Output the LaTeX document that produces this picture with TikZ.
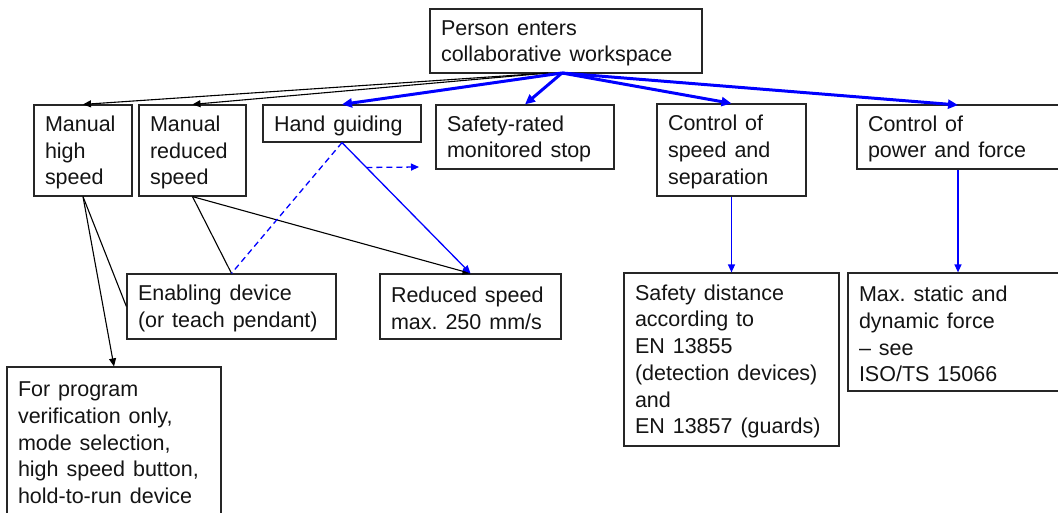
\documentclass[tikz,border=0pt]{standalone}
\usepackage{fontspec}
\setmainfont{Liberation Sans}
\usetikzlibrary{arrows.meta,calc}

% A framed, left-aligned box given by its corner coordinates (x1,y1) and (x2,y2)
\newcommand\flowbox[6]{%
  \pgfmathsetmacro\fbW{#4-#2}%
  \pgfmathsetmacro\fbH{#5-#3}%
  \pgfmathsetmacro\fbT{#4-#2-22}%
  \pgfmathsetmacro\fbX{(#2+#4)/2}%
  \pgfmathsetmacro\fbY{(#3+#5)/2}%
  \node[bx, minimum width=\fbW pt, minimum height=\fbH pt, text width=\fbT pt] (#1) at (\fbX,\fbY) {#6};%
}

\newcommand\boxfont{\fontsize{21.5}{26.7}\selectfont}
% wider word spaces and a taller first line, so the text sits a little lower
\newcommand\boxspacing{\frenchspacing\spaceskip=0.37em plus 0.1em\relax\rule{0pt}{19.5pt}}

\tikzset{
  bx/.style={draw=black!85, line width=1.2pt, rectangle, inner xsep=11pt, inner ysep=0pt,
             align=left, text=black!92, font=\boxfont,
             execute at begin node=\boxspacing},
  thinblack/.style={draw=black, line width=1.1pt},
  thinblue/.style={draw=blue, line width=1.3pt},
  thickblue/.style={draw=blue, line width=3pt},
  tipS/.style={-{Triangle[length=8pt,width=7pt]}},
  tipL/.style={-{Triangle[length=10pt,width=9pt]}},
  dashline/.style={dash pattern=on 6pt off 4pt}
}

\begin{document}
\begin{tikzpicture}[x=1pt,y=-1pt]
  \useasboundingbox (0,0) rectangle (1058,512);
  \clip (0,0) rectangle (1058,512);
  \fill[white] (0,0) rectangle (1058,512);

  % entry box
  \flowbox{top}{430}{9}{702}{73}{Person enters\\collaborative workspace}

  % operating modes
  \flowbox{mhs}{34}{105}{132}{196}{Manual\\high\\speed}
  \flowbox{mrs}{139}{105}{246}{196}{Manual\\reduced\\speed}
  \flowbox{hg}{263}{105}{421}{142}{Hand guiding}
  \flowbox{ss}{436}{105}{614}{169}{Safety-rated\\monitored stop}
  \flowbox{css}{657}{104}{806}{196}{Control of\\speed and\\separation}
  \flowbox{cpf}{857}{105}{1064}{169}{Control of\\power and force}

  % requirements
  \flowbox{en}{127}{274}{336}{339}{Enabling device\\(or teach pendant)}
  \flowbox{rs}{380}{274}{561}{339}{Reduced speed\\max. 250 mm/s}
  \flowbox{fp}{7}{367}{221}{514}{For program\\verification only,\\mode selection,\\high speed button,\\hold-to-run device}
  \flowbox{sd}{624}{273}{839}{446}{Safety distance\\according to\\EN 13855\\(detection devices)\\and\\EN 13857 (guards)}
  \flowbox{ms}{848}{273}{1064}{391}{Max. static and\\dynamic force\\-- see\\ISO/TS 15066}

  % fan-out points under the entry box
  \coordinate (srcK) at (548,73);
  \coordinate (srcB) at (562,73);
  \coordinate (cpfIn) at (958,105);
  \coordinate (hgSplit) at ($(hg.south)!0.19!(rs.north)$);
  \coordinate (stopIn) at (419,167);

  % branches from the entry box
  \draw[thinblack, tipS] (srcK) -- (mhs.north);
  \draw[thinblack, tipS] (srcK) -- (mrs.north);
  \draw[thickblue, tipL] (srcB) -- (hg.north);
  \draw[thickblue, tipL] (srcB) -- (ss.north);
  \draw[thickblue, tipL] (srcB) -- (css.north);
  \draw[thickblue, tipL] (srcB) -- (cpfIn);

  % manual modes
  \draw[thinblack] (mhs.south) -- (en.west);
  \draw[thinblack, tipS] (mhs.south) -- (fp.north);
  \draw[thinblack] (mrs.south) -- (en.north);
  \draw[thinblack, tipS] (mrs.south) -- (rs.north);

  % hand guiding
  \draw[thinblue, tipS] (hg.south) -- (rs.north);
  \draw[thinblue, dashline] (hg.south) -- (en.north);
  \draw[thinblue, dashline, tipS] (hgSplit) -- (stopIn);

  % collaborative methods
  \draw[thinblue, tipS] (css.south) -- (sd.north);
  \draw[thinblue, tipS] (cpf.south -| cpfIn) -- (ms.north -| cpfIn);
\end{tikzpicture}
\end{document}
